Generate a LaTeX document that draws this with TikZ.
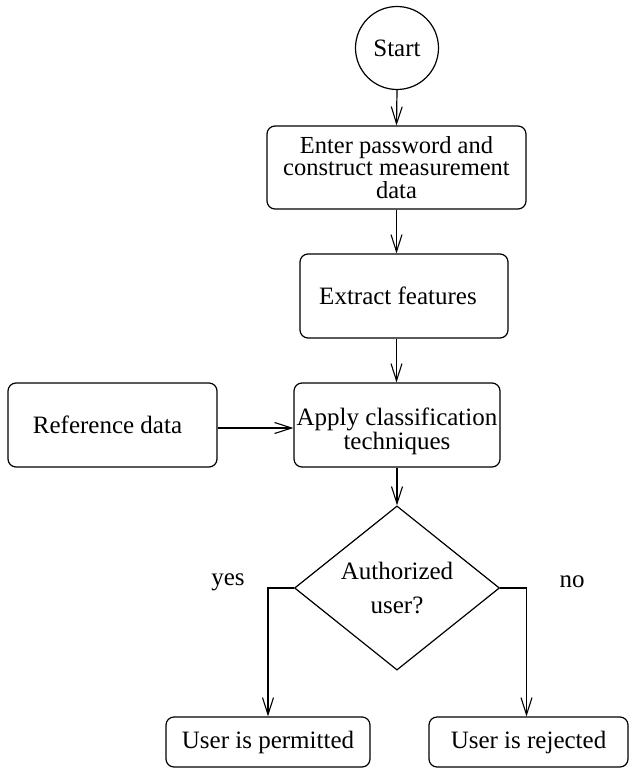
\documentclass[tikz,border=0pt]{standalone}
\usepackage{fontspec}
\setmainfont{Liberation Serif}
\usetikzlibrary{shapes.geometric,arrows.meta}
\begin{document}
\begin{tikzpicture}[x=1pt,y=-1pt,
  font=\fontsize{25}{21}\selectfont,
  every path/.style={line width=1.2pt},
  flow/.style={draw,rounded corners=8pt,inner sep=0pt,align=center},
  conn/.style={-{Straight Barb[length=17pt,width=11pt,line width=1.1pt]}}]
\useasboundingbox (0,0) rectangle (630,768);
\node[draw,circle,minimum size=83pt,inner sep=0pt] (start) at (397,48) {Start};
\node[flow,minimum width=259pt,minimum height=83pt,font=\fontsize{24.5}{22.5}\selectfont] (enter) at (396.5,167.5)
  {Enter password and\\construct measurement\\data};
\node[flow,minimum width=208pt,minimum height=84pt] (extract) at (404,296) {\hspace*{-12pt}Extract features};
\node[flow,minimum width=206pt,minimum height=84pt,
  label={[align=center,yshift=-6pt,font=\fontsize{25}{20}\selectfont]center:Apply classification\\techniques}] (apply) at (397,425) {};
\node[flow,minimum width=209pt,minimum height=84pt] (ref) at (112.5,425) {Reference data\hspace*{10pt}};
\node[draw,diamond,minimum width=205pt,minimum height=156pt,inner sep=0pt,align=center,
  font=\fontsize{25}{34}\selectfont]
  (auth) at (397,588) {Authorized\\user?};
\node[flow,minimum width=204pt,minimum height=50pt] (perm) at (268,742) {User is permitted};
\node[flow,minimum width=199pt,minimum height=50pt] (rej) at (528.5,742) {User is rejected};
\node (yes) at (228,582) {yes};
\node (no) at (572,582) {no};
\draw[conn] (start.south) -- (enter.north);
\draw[conn] (enter.south) -- (enter.south |- extract.north);
\draw[conn] (enter.south |- extract.south) -- (enter.south |- apply.north);
\draw[conn] (apply.south) -- (auth.north);
\draw[conn] ([yshift=-3pt]ref.east) -- ([yshift=-3pt]ref.east -| apply.west);
\draw[conn] (auth.west) -| (perm.north);
\draw[conn] (auth.east) -| ([xshift=-2pt]rej.north);
\end{tikzpicture}
\end{document}
